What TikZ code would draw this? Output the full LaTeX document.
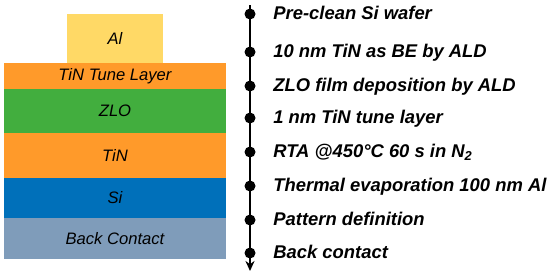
\documentclass[tikz,border=0pt]{standalone}
\usepackage{fontspec}
\setmainfont{Liberation Sans}
\usepackage{tikz}
\usetikzlibrary{arrows.meta}

\definecolor{alyellow}{HTML}{FFD966}
\definecolor{tinorange}{HTML}{FF9A2A}
\definecolor{zlogreen}{HTML}{42AE3E}
\definecolor{siblue}{HTML}{0070BA}
\definecolor{backgray}{HTML}{7F9CBA}

\begin{document}
\begin{tikzpicture}[
        x=0.5pt, y=-0.5pt,
        layer/.style={
            rectangle,
            minimum width=222,
            inner sep=0pt,
            font=\fontsize{8.3}{9}\selectfont\itshape
        },
        dot/.style={
            circle,
            fill=black,
            minimum size=5.5pt,
            inner sep=0pt
        },
        steptext/.style={
            anchor=mid west,
            inner sep=0pt,
            font=\fontsize{9.2}{11}\selectfont\bfseries\itshape
        },
        arrow/.style={-{Stealth[length=5pt,width=4.5pt]}, line width=1.1pt}
    ]
        \useasboundingbox (0,0) rectangle (550,275);

        % stack of layers
        \node[layer, fill=alyellow, minimum width=48pt, minimum height=24.5pt] (al) at (115,38.5) {Al};
        \node[layer, fill=tinorange, minimum width=111pt, minimum height=13pt] (tune) at (115,76) {TiN Tune Layer};
        \node[layer, fill=zlogreen, minimum width=111pt, minimum height=22pt] (zlo) at (115,111) {ZLO};
        \node[layer, fill=tinorange, minimum width=111pt, minimum height=22.5pt] (tin) at (115,155.5) {TiN};
        \node[layer, fill=siblue, minimum width=111pt, minimum height=20pt] (si) at (115,198) {Si};
        \node[layer, fill=backgray, minimum width=111pt, minimum height=20.5pt] (back) at (115,238.5) {Back Contact};

        % process flow
        \coordinate (top) at (250,5);
        \coordinate (bottom) at (250,271);
        \draw[arrow] (top) -- (bottom);

        \node[dot] (s1) at (250,14) {};
        \node[dot] (s2) at (250,52) {};
        \node[dot] (s3) at (250,86) {};
        \node[dot] (s4) at (250,118) {};
        \node[dot] (s5) at (250,152) {};
        \node[dot] (s6) at (250,186) {};
        \node[dot] (s7) at (250,220) {};
        \node[dot] (s8) at (250,253) {};

        \node[steptext] (t1) at (273,14) {Pre-clean Si wafer};
        \node[steptext] (t2) at (273,52) {10 nm TiN as BE by ALD};
        \node[steptext] (t3) at (273,86) {ZLO film deposition by ALD};
        \node[steptext] (t4) at (273,118) {1 nm TiN tune layer};
        \node[steptext] (t5) at (273,152) {RTA @450\textdegree{}C 60 s in N\textsubscript{2}};
        \node[steptext] (t6) at (273,186) {Thermal evaporation 100 nm Al};
        \node[steptext] (t7) at (273,220) {Pattern definition};
        \node[steptext] (t8) at (273,253) {Back contact};
    \end{tikzpicture}
\end{document}
